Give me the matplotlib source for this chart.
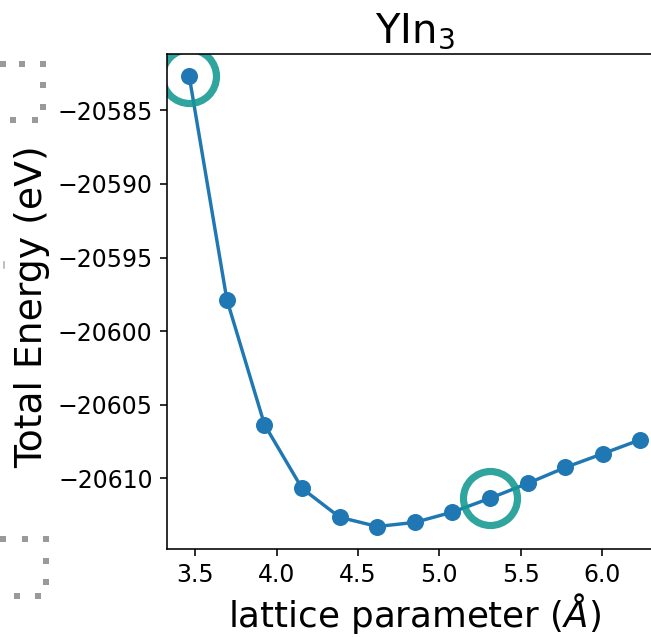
import matplotlib
matplotlib.use("Agg")
import matplotlib.pyplot as plt
from matplotlib.lines import Line2D
from matplotlib.ticker import ScalarFormatter

# Data
lattice = [3.463, 3.694, 3.925, 4.156, 4.387, 4.618, 4.849, 5.080,
           5.311, 5.542, 5.773, 6.004, 6.235]
energy = [-20582.70, -20597.86, -20606.35, -20610.69, -20612.65, -20613.28,
          -20613.00, -20612.30, -20611.36, -20610.35, -20609.27, -20608.33,
          -20607.38]
highlight_idx = [0, 8]
title = "YIn$_3$"
xlabel = "lattice parameter ($\\AA$)"
ylabel = "Total Energy (eV)"

W, H, DPI = 651, 637, 144
fig = plt.figure(figsize=(W / DPI, H / DPI), dpi=DPI)
ax = fig.add_axes([166.7 / W, 1 - 549 / H, (663 - 166.7) / W, (549 - 54) / H])

ax.plot(lattice, energy, "-o", color="#1f77b4", lw=1.7, ms=7.5)
ax.plot([lattice[i] for i in highlight_idx], [energy[i] for i in highlight_idx],
        "o", ms=27, mfc="none", mec="#139990", mew=3.6, alpha=0.88)

ax.set_xticks([3.5, 4.0, 4.5, 5.0, 5.5, 6.0])
ax.set_yticks([-20585, -20590, -20595, -20600, -20605, -20610])
fmt = ScalarFormatter(useOffset=False)
ax.yaxis.set_major_formatter(fmt)
ax.tick_params(labelsize=11.8)
ax.set_title(title, fontsize=20)
ax.set_xlabel(xlabel, fontsize=17.8, labelpad=2.0)
ax.set_ylabel(ylabel, fontsize=18.9)
ax.yaxis.set_label_coords(-0.234, 0.489)

# grey dotted bracket decorations at the left edge
def px(xs, ys):
    return [x / W for x in xs], [1 - y / H for y in ys]

for xs, ys in [
    ([3, 22, 43, 43, 43, 35, 13], [64, 64, 64, 85, 107, 120, 120]),
    ([3, 25, 46, 46, 46, 38, 17], [539, 539, 539, 561, 582, 596, 596]),
]:
    fx, fy = px(xs, ys)
    fig.add_artist(Line2D(fx, fy, transform=fig.transFigure, ls="none",
                          marker="s", ms=2.6, color="#9a9a9a", mec="none"))
fx, fy = px([4, 4], [262, 268])
fig.add_artist(Line2D(fx, fy, transform=fig.transFigure, color="#b0b0b0", lw=0.8))

fig.savefig("out.png", dpi=DPI)
